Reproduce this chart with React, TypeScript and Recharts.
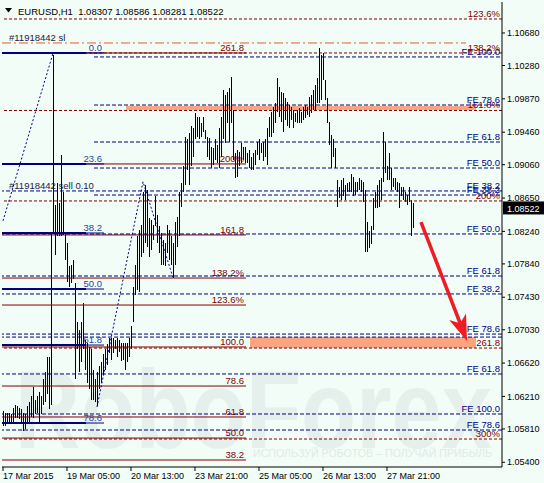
import React from "react";
import { Bar, ComposedChart, Line, ReferenceArea, ReferenceLine, XAxis, YAxis } from "recharts";

// EURUSD H1, 17-27 Mar 2015. Bars are high/low only (chart zoomed out, 2px per bar).
const FONT = "'Liberation Sans', Arial, sans-serif";
const NAVY = "#000080";
const MAROON = "#800000";
const BG = "#f3fdf7";

const highs = [
  1.0603, 1.0601, 1.06, 1.0601, 1.0599, 1.0607, 1.0611, 1.0609, 1.0607, 1.0605,
  1.0601, 1.0599, 1.0609, 1.0614, 1.0621, 1.0633, 1.0617, 1.0621, 1.0627, 1.0621,
  1.0642, 1.0651, 1.0669, 1.067, 1.0822, 1.1041, 1.0857, 1.0884, 1.0859, 1.0918,
  1.0872, 1.0822, 1.081, 1.0781, 1.0783, 1.0789, 1.0761, 1.0712, 1.0703, 1.0712,
  1.0736, 1.0691, 1.0687, 1.0682, 1.0679, 1.0654, 1.0642, 1.0651, 1.0658, 1.0663,
  1.0673, 1.0679, 1.0685, 1.0693, 1.0693, 1.0693, 1.0691, 1.0693, 1.0691, 1.0687,
  1.0687, 1.0687, 1.0687, 1.0693, 1.0707, 1.0756, 1.0783, 1.0818, 1.0826, 1.0832,
  1.0872, 1.0881, 1.0875, 1.0841, 1.0838, 1.0832, 1.0867, 1.0844, 1.083, 1.0822,
  1.0814, 1.081, 1.0832, 1.0826, 1.0818, 1.081, 1.0835, 1.0842, 1.0873, 1.0884,
  1.0904, 1.094, 1.0937, 1.0945, 1.0953, 1.0951, 1.097, 1.0965, 1.0965, 1.0957,
  1.0965, 1.0949, 1.094, 1.0939, 1.0928, 1.0927, 1.0937, 1.093, 1.0951, 1.0965,
  1.0998, 1.0992, 1.0996, 1.1, 1.1014, 1.0973, 1.0921, 1.0924, 1.0922, 1.0933,
  1.0928, 1.0928, 1.0921, 1.0924, 1.0916, 1.0921, 1.0924, 1.0934, 1.0937, 1.0933,
  1.0934, 1.0937, 1.0951, 1.0965, 1.0971, 1.0977, 1.0982, 1.1013, 1.1002, 1.0996,
  1.0994, 1.0988, 1.0983, 1.098, 1.0977, 1.0973, 1.097, 1.0973, 1.0976, 1.0971,
  1.0977, 1.098, 1.0977, 1.0989, 1.0992, 1.0998, 1.1004, 1.1013, 1.105, 1.1041,
  1.1043, 1.101, 1.0988, 1.0959, 1.0943, 1.0937, 1.0927, 1.0887, 1.0879, 1.0887,
  1.089, 1.0881, 1.0884, 1.0885, 1.0894, 1.0891, 1.0885, 1.0885, 1.089, 1.0887,
  1.0885, 1.0875, 1.0836, 1.0824, 1.083, 1.0865, 1.0872, 1.0881, 1.0887, 1.089,
  1.0946, 1.0934, 1.0904, 1.0921, 1.0902, 1.089, 1.089, 1.0885, 1.0884, 1.0878,
  1.0879, 1.0873, 1.0869, 1.0879, 1.0863, 1.08586,
];
const lows = [
  1.0585, 1.0585, 1.0587, 1.0589, 1.059, 1.059, 1.0595, 1.0595, 1.0593, 1.0589,
  1.0578, 1.0581, 1.0589, 1.059, 1.0596, 1.0595, 1.0599, 1.0601, 1.0589, 1.0599,
  1.0611, 1.0614, 1.0624, 1.0605, 1.0611, 1.0822, 1.0795, 1.0818, 1.0818, 1.0818,
  1.082, 1.0789, 1.0762, 1.0756, 1.0761, 1.0765, 1.0642, 1.0679, 1.0651, 1.0663,
  1.0679, 1.0654, 1.0638, 1.063, 1.0617, 1.0617, 1.0614, 1.0609, 1.063, 1.0638,
  1.0648, 1.0654, 1.066, 1.0675, 1.0666, 1.0675, 1.0679, 1.067, 1.0676, 1.0664,
  1.0666, 1.0654, 1.0663, 1.067, 1.0679, 1.0712, 1.0746, 1.0752, 1.0749, 1.0792,
  1.0798, 1.081, 1.0805, 1.0792, 1.0801, 1.0814, 1.083, 1.081, 1.0798, 1.0783,
  1.0783, 1.0781, 1.0798, 1.0789, 1.0783, 1.0767, 1.0783, 1.0805, 1.0818, 1.0854,
  1.0873, 1.0881, 1.09, 1.0881, 1.0904, 1.0916, 1.0937, 1.094, 1.0937, 1.094,
  1.0946, 1.0937, 1.0916, 1.0912, 1.0902, 1.0906, 1.0912, 1.0908, 1.0902, 1.0916,
  1.0937, 1.0933, 1.0957, 1.0934, 1.0957, 1.0912, 1.089, 1.0891, 1.0904, 1.0908,
  1.0912, 1.0908, 1.0908, 1.0902, 1.09, 1.09, 1.0906, 1.0918, 1.0912, 1.0921,
  1.091, 1.0916, 1.0906, 1.094, 1.094, 1.0945, 1.0957, 1.0971, 1.0965, 1.0959,
  1.0946, 1.0961, 1.0953, 1.0951, 1.0961, 1.0951, 1.0959, 1.0957, 1.0957, 1.0957,
  1.0961, 1.0964, 1.0967, 1.0965, 1.097, 1.0973, 1.0973, 1.0982, 1.0982, 1.0986,
  1.101, 1.0986, 1.0957, 1.093, 1.0902, 1.0916, 1.0902, 1.0854, 1.0865, 1.0863,
  1.0867, 1.0863, 1.0872, 1.0873, 1.0873, 1.0867, 1.0869, 1.0873, 1.0875, 1.0873,
  1.086, 1.0799, 1.0799, 1.0804, 1.0808, 1.0826, 1.0853, 1.0853, 1.0854, 1.0863,
  1.0885, 1.0896, 1.0887, 1.0887, 1.0875, 1.0879, 1.0875, 1.0873, 1.0853, 1.0867,
  1.0863, 1.086, 1.0857, 1.086, 1.0818, 1.08281,
];
const SLOTS = 250;

const timeTickIdx = [0, 32, 64, 96, 128, 160, 192];
const timeLabels = ["17 Mar 2015", "19 Mar 05:00", "20 Mar 13:00", "23 Mar 21:00", "25 Mar 05:00", "26 Mar 13:00", "27 Mar 21:00"];
const priceTicks = [1.1068, 1.1028, 1.0987, 1.0946, 1.0906, 1.0865, 1.0824, 1.0784, 1.0743, 1.0703, 1.0662, 1.0621, 1.0581, 1.054];

// zigzag / fibo anchor lines (dotted)
const zigAIdx = [0, 25];
const zigAVal = [1.0837, 1.1043];
const zigBIdx = [47, 70, 85];
const zigBVal = [1.0608, 1.0885, 1.0767];

// fibo retracement (navy, left)
const retrLabels = ["0.0", "23.6", "38.2", "50.0", "61.8", "78.6"];
const retrPrices = [1.10434, 1.09069, 1.0822, 1.07531, 1.06842, 1.05883];
// fibo expansion (maroon solid, left half)
const expLabels = ["261.8", "200%", "161.8", "138.2%", "123.6%", "100.0", "78.6", "61.8", "50.0", "38.2"];
const expPrices = [1.10434, 1.09069, 1.08196, 1.07666, 1.07334, 1.06818, 1.06338, 1.05957, 1.05698, 1.05428];
// projection (maroon dashed, full width)
const projLabels = ["123.6%", "138.2%", "161.8%", "200%", "261.8", "300%"];
const projPrices = [1.10852, 1.10434, 1.09727, 1.08614, 1.06805, 1.05686];
// FE levels of the up-swing (navy dashed, from the swing low)
const feUpLabels = ["FE 100.0", "FE 78.6", "FE 61.8", "FE 50.0", "FE 38.2"];
const feUpPrices = [1.10385, 1.09794, 1.09339, 1.09019, 1.08687];
// FE levels of the down-swing (navy dashed, full width)
const feDnLabels = ["FE 38.2", "FE 50.0", "FE 61.8", "FE 38.2", "FE 78.6", "", "FE 61.8", "FE 100.0", "FE 78.6"];
const feDnPrices = [1.08737, 1.08208, 1.07691, 1.0747, 1.06977, 1.0694, 1.06486, 1.05994, 1.05797];

const zoneA = [1.09733, 1.09782];
const zoneB = [1.06805, 1.0694];
const slPrice = 1.10557;
const lastPrice = 1.08522;
const header = "EURUSD,H1  1.08307 1.08586 1.08281 1.08522";

const data = Array.from({ length: SLOTS }, (_, i) => {
  const a = zigAIdx.indexOf(i);
  const b = zigBIdx.indexOf(i);
  return {
    i,
    hl: i < highs.length ? [lows[i], highs[i]] : null,
    zzA: a >= 0 ? zigAVal[a] : null,
    zzB: b >= 0 ? zigBVal[b] : null,
  };
});

const txt = { fontFamily: FONT, fontSize: 9.5 };

const rightLabel = (text: string, color: string) => (p: any) => {
  const vb = p.viewBox || {};
  return (
    <text x={vb.x + vb.width - 2} y={vb.y - 2} textAnchor="end" fill={color} {...txt}>
      {text}
    </text>
  );
};
const leftLabel = (text: string, color: string) => (p: any) => {
  const vb = p.viewBox || {};
  return (
    <text x={vb.x + 7} y={vb.y - 2} textAnchor="start" fill={color} {...txt}>
      {text}
    </text>
  );
};
const priceBox = (p: any) => {
  const vb = p.viewBox || {};
  const x = vb.x + vb.width + 1;
  return (
    <g>
      <rect x={x} y={vb.y - 7} width={42} height={13} fill="#000" />
      <text x={x + 4} y={vb.y + 3.5} fill="#fff" fontFamily={FONT} fontSize={9}>
        {lastPrice.toFixed(5)}
      </text>
    </g>
  );
};

const HLBar = (p: any) => {
  if (p.height == null || p.x == null) return null;
  const cx = Math.round(p.x + p.width / 2 - 0.5);
  return <rect x={cx} y={p.y} width={1} height={Math.max(1, p.height)} fill="#000" shapeRendering="crispEdges" />;
};

const Arrow = (p: any) => {
  const { x1, y1, x2, y2 } = p;
  if (x1 == null) return null;
  const a = Math.atan2(y2 - y1, x2 - x1);
  const c = Math.cos(a);
  const s = Math.sin(a);
  const L = 26;
  const W = 9;
  const bx = x2 - L * c;
  const by = y2 - L * s;
  const nx = bx + 7 * c;
  const ny = by + 7 * s;
  return (
    <g>
      <line x1={x1} y1={y1} x2={nx} y2={ny} stroke="#ee1c24" strokeWidth={3.5} />
      <polygon points={`${x2},${y2} ${bx - s * W},${by + c * W} ${nx},${ny} ${bx + s * W},${by - c * W}`} fill="#ee1c24" />
    </g>
  );
};

const TimeTick = (p: any) => {
  const k = timeTickIdx.indexOf(p.payload.value);
  return (
    <g>
      <line x1={p.x} x2={p.x} y1={p.y} y2={p.y + 4} stroke="#000" />
      <text x={p.x} y={p.y + 12} fill="#000" fontFamily={FONT} fontSize={9}>
        {timeLabels[k]}
      </text>
    </g>
  );
};

export default function App() {
  return (
    <div style={{ position: "fixed", left: 0, top: 0, width: 544, height: 483, background: BG, overflow: "hidden" }}>
      <svg width={544} height={483} style={{ position: "absolute", left: 0, top: 0 }}>
        <text x={15} y={448} fontFamily={FONT} fontWeight="bold" fontSize={112} fill="#e5efeb" textLength={477} lengthAdjust="spacingAndGlyphs">
          RoboForex
        </text>
        <text x={253} y={457} fontFamily={FONT} fontSize={10.5} fill="#e0eae7" textLength={239} lengthAdjust="spacingAndGlyphs">
          ИСПОЛЬЗУЙ РОБОТОВ – ПОЛУЧАЙ ПРИБЫЛЬ
        </text>
      </svg>
      <div style={{ position: "absolute", left: 0, top: 0 }}>
        <ComposedChart width={544} height={483} data={data} margin={{ top: 2, right: 0, bottom: 0, left: 2 }}>
          <XAxis
            dataKey="i"
            type="category"
            height={16}
            ticks={timeTickIdx}
            interval={0}
            tickSize={0}
            tickMargin={0}
            tickLine={false}
            axisLine={{ stroke: "#000" }}
            tick={<TimeTick />}
          />
          <YAxis
            orientation="right"
            width={42}
            domain={[1.05342, 1.11061]}
            allowDataOverflow
            ticks={priceTicks}
            interval={0}
            tickSize={3}
            tickMargin={2}
            tickFormatter={(v: number) => v.toFixed(5)}
            tick={{ fill: "#000", fontSize: 9, fontFamily: FONT }}
            tickLine={{ stroke: "#000" }}
            axisLine={{ stroke: "#000" }}
          />

          <ReferenceArea x1={62} x2={236} y1={zoneA[0]} y2={zoneA[1]} fill="#fca37f" fillOpacity={1} stroke="none" />
          <ReferenceArea x1={124} x2={236} y1={zoneB[0]} y2={zoneB[1]} fill="#fca37f" fillOpacity={1} stroke="none" />

          {projPrices.map((p, k) => (
            <ReferenceLine key={"pj" + k} y={p} stroke={MAROON} strokeDasharray="3 2" label={rightLabel(projLabels[k], MAROON)} />
          ))}
          {expPrices.map((p, k) => (
            <ReferenceLine
              key={"ex" + k}
              segment={[{ x: 0, y: p }, { x: 122, y: p }]}
              position="start"
              stroke={MAROON}
              label={rightLabel(expLabels[k], MAROON)}
            />
          ))}
          {feDnPrices.map((p, k) => (
            <ReferenceLine key={"fd" + k} y={p} stroke={NAVY} strokeDasharray="4 2" label={feDnLabels[k] ? rightLabel(feDnLabels[k], NAVY) : undefined} />
          ))}
          {feUpPrices.map((p, k) => (
            <ReferenceLine
              key={"fu" + k}
              segment={[{ x: 45, y: p }, { x: 249, y: p }]}
              position="end"
              stroke={NAVY}
              strokeDasharray="4 2"
              label={rightLabel(feUpLabels[k], NAVY)}
            />
          ))}
          {retrPrices.map((p, k) => (
            <ReferenceLine key={"rt" + k} segment={[{ x: 0, y: p }, { x: 42, y: p }]} position="start" stroke={NAVY} strokeWidth={2} />
          ))}
          {retrPrices.map((p, k) => (
            <ReferenceLine
              key={"rs" + k}
              segment={[{ x: 42, y: p }, { x: 51, y: p }]}
              position="start"
              stroke={NAVY}
              label={rightLabel(retrLabels[k], "#2a44a0")}
            />
          ))}
          <ReferenceLine
            segment={[{ x: 0, y: feDnPrices[0] }, { x: 51, y: feDnPrices[0] }]}
            position="start"
            stroke="none"
            label={leftLabel("#11918442 sell 0.10", "#1a1a40")}
          />
          <ReferenceLine
            segment={[{ x: 0, y: slPrice }, { x: 232, y: slPrice }]}
            position="start"
            stroke="#f0562a"
            strokeDasharray="9 3 2 3"
            label={leftLabel("#11918442 sl", "#1a1a40")}
          />

          <Line dataKey="zzA" connectNulls dot={false} stroke={NAVY} strokeDasharray="2 2" isAnimationActive={false} />
          <Line dataKey="zzB" connectNulls dot={false} stroke={NAVY} strokeDasharray="2 2" isAnimationActive={false} />
          <Bar dataKey="hl" barSize={1} shape={<HLBar />} isAnimationActive={false} />

          <ReferenceLine segment={[{ x: 209, y: 1.08355 }, { x: 232, y: 1.06892 }]} shape={<Arrow />} />
          <ReferenceLine y={lastPrice} stroke="none" label={priceBox} />
        </ComposedChart>
      </div>
      <svg width={260} height={20} style={{ position: "absolute", left: 0, top: 0 }}>
        <polygon points="5,8 12,8 8.5,12.5" fill="#000" />
        <text x={18} y={15} fontFamily={FONT} fontSize={9.5} fill="#000" xmlSpace="preserve">
          {header}
        </text>
      </svg>
    </div>
  );
}
